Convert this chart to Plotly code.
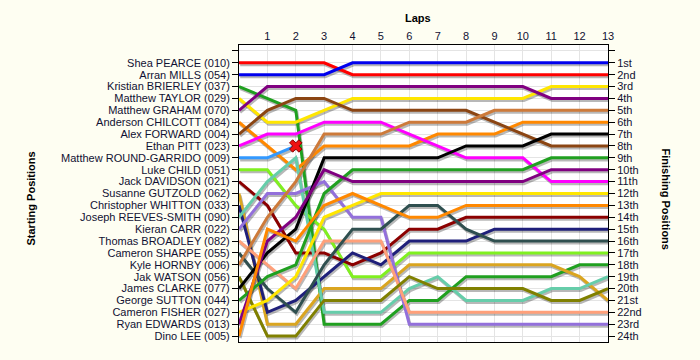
import plotly.graph_objects as go

laps = list(range(14))

riders = [
    "Shea PEARCE (010)", "Arran MILLS (054)", "Kristian BRIERLEY (037)", "Matthew TAYLOR (029)",
    "Matthew GRAHAM (070)", "Anderson CHILCOTT (084)", "Alex FORWARD (004)", "Ethan PITT (023)",
    "Matthew ROUND-GARRIDO (009)", "Luke CHILD (051)", "Jack DAVIDSON (021)", "Susanne GUTZOLD (062)",
    "Christopher WHITTON (033)", "Joseph REEVES-SMITH (090)", "Kieran CARR (022)", "Thomas BROADLEY (082)",
    "Cameron SHARPE (055)", "Kyle HORNBY (006)", "Jak WATSON (056)", "James CLARKE (077)",
    "George SUTTON (044)", "Cameron FISHER (027)", "Ryan EDWARDS (013)", "Dino LEE (005)",
]

colors = [
    "#ff0000", "#0000ee", "#20a020", "#ffe600", "#800080", "#ff8800", "#8b4513", "#ff00ff",
    "#3399ff", "#80f020", "#8b0000", "#daa520", "#1f1f7a", "#66cdaa", "#9370db", "#ffa07a",
    "#2f4f4f", "#cd7a3a", "#808000", "#000000", "#20a020", "#ffe600", "#800080", "#ff8800",
]

p_pearce = [1, 1, 1, 1, 2, 2, 2, 2, 2, 2, 2, 2, 2, 2]
p_mills = [2, 2, 2, 2, 1, 1, 1, 1, 1, 1, 1, 1, 1, 1]
p_brierley = [3, 4, 5, 23, 23, 23, 21, 21, 19, 19, 19, 19, 18, 18]
p_taylor = [4, 6, 6, 5, 4, 4, 4, 4, 4, 4, 4, 3, 3, 3]
p_graham = [5, 3, 3, 3, 3, 3, 3, 3, 3, 3, 3, 4, 4, 4]
p_chilcott = [6, 8, 10, 8, 8, 8, 8, 7, 7, 7, 6, 6, 6, 6]
p_forward = [7, 5, 4, 4, 5, 5, 5, 5, 5, 6, 7, 8, 8, 8]
p_pitt = [8, 7, 7, 6, 6, 6, 7, 8, 9, 9, 9, 11, 11, 11]
p_round = [9, 9, 8]
p_child = [10, 10, 13, 15, 19, 19, 17, 17, 17, 17, 17, 17, 17, 17]
p_davidson = [11, 13, 17, 17, 18, 17, 15, 15, 14, 14, 14, 14, 14, 14]
p_gutzold = [12, 23, 23, 20, 20, 20, 18, 18, 18, 18, 18, 18, 19, 21]
p_whitton = [13, 22, 21, 19, 17, 18, 16, 16, 16, 15, 15, 15, 15, 15]
p_reeves = [14, 11, 9, 22, 22, 22, 20, 19, 21, 21, 21, 20, 20, 19]
p_carr = [15, 12, 12, 11, 14, 14, 23, 23, 23, 23, 23, 23, 23, 23]
p_broadley = [16, 18, 20, 16, 16, 16, 22, 22, 22, 22, 22, 22, 22, 22]
p_sharpe = [17, 20, 22, 18, 15, 15, 13, 13, 15, 16, 16, 16, 16, 16]
p_hornby = [18, 14, 11, 7, 7, 7, 6, 6, 6, 5, 5, 5, 5, 5]
p_watson = [19, 24, 24, 21, 21, 21, 19, 20, 20, 20, 20, 21, 21, 20]
p_clarke = [20, 17, 15, 9, 9, 9, 9, 9, 8, 8, 8, 7, 7, 7]
p_sutton = [21, 19, 18, 12, 10, 10, 10, 10, 10, 10, 10, 9, 9, 9]
p_fisher = [22, 21, 19, 14, 13, 12, 12, 12, 12, 12, 12, 12, 12, 12]
p_edwards = [23, 16, 14, 10, 11, 11, 11, 11, 11, 11, 11, 10, 10, 10]
p_lee = [24, 15, 16, 13, 12, 13, 14, 14, 13, 13, 13, 13, 13, 13]

series = [p_pearce, p_mills, p_brierley, p_taylor, p_graham, p_chilcott, p_forward, p_pitt,
          p_round, p_child, p_davidson, p_gutzold, p_whitton, p_reeves, p_carr, p_broadley,
          p_sharpe, p_hornby, p_watson, p_clarke, p_sutton, p_fisher, p_edwards, p_lee]

finish_labels = ["1st", "2nd", "3rd", "4th", "5th", "6th", "7th", "8th", "9th", "10th", "11th", "12th",
                 "13th", "14th", "15th", "16th", "17th", "18th", "19th", "20th", "21st", "22nd", "23rd", "24th"]

dnf_rider = 8  # index of rider who retired (last recorded lap gets a cross)

fig = go.Figure()

# shadows
for pos in series:
    xs = [laps[i] + 0.04 for i in range(len(pos))]
    ys = [p + 0.17 for p in pos]
    fig.add_trace(go.Scatter(x=xs, y=ys, mode="lines", line=dict(color="rgba(0,0,0,0.28)", width=3),
                             hoverinfo="skip", showlegend=False))

for name, col, pos in zip(riders, colors, series):
    fig.add_trace(go.Scatter(x=laps[:len(pos)], y=pos, mode="lines", name=name,
                             line=dict(color=col, width=3), showlegend=False))

dnf = series[dnf_rider]
fig.add_trace(go.Scatter(x=[laps[len(dnf) - 1]], y=[dnf[-1]], mode="markers",
                         marker=dict(symbol="x", size=11, color="#ee1111", line=dict(color="#880000", width=1)),
                         showlegend=False))

# invisible trace to anchor right axis
fig.add_trace(go.Scatter(x=[laps[-1]], y=[1], yaxis="y2", mode="markers", marker=dict(opacity=0),
                         showlegend=False, hoverinfo="skip"))

FONT = "Liberation Sans, Arial, sans-serif"
tick_font = dict(family=FONT, size=11, color="#111133")
pos_vals = list(range(0, 25))

W, H = 700, 360
L, R, T, B = 239, 92, 45, 18
ph = H - T - B
pw = W - L - R

fig.update_layout(
    width=W, height=H,
    margin=dict(l=L, r=R, t=T, b=B, autoexpand=False),
    paper_bgcolor="#fefef2",
    plot_bgcolor="#ffffff",
    xaxis=dict(range=[0, 13], side="top", tickvals=laps[1:], ticktext=[str(l) for l in laps[1:]],
               showgrid=True, gridcolor="#e4e4e4", gridwidth=1, showline=True, linecolor="#000",
               linewidth=1, mirror=True, ticks="outside", ticklen=0, tickfont=tick_font,
               zeroline=False, automargin=False),
    yaxis=dict(range=[24.5, -0.5], tickvals=pos_vals, ticktext=[""] + riders, showgrid=True,
               gridcolor="#e4e4e4", gridwidth=1, showline=True, linecolor="#000", linewidth=1,
               ticks="outside", ticklen=6, tickcolor="#000", tickfont=tick_font, zeroline=False,
               automargin=False),
    yaxis2=dict(range=[24.5, -0.5], overlaying="y", side="right", tickvals=pos_vals,
                ticktext=[""] + finish_labels, showgrid=False, showline=True, linecolor="#000",
                linewidth=1, ticks="outside", ticklen=6, tickcolor="#000", tickfont=tick_font,
                zeroline=False, automargin=False),
    annotations=[
        dict(text="<b>Laps</b>", xref="paper", yref="paper", x=(418 - L) / pw, y=1 + (T - 18) / ph,
             xanchor="center", yanchor="middle", showarrow=False,
             font=dict(family=FONT, size=11, color="#000")),
        dict(text="<b>Starting Positions</b>", xref="paper", yref="paper", x=(30 - L) / pw,
             y=(H - B - 198.5) / ph, textangle=-90, showarrow=False, xanchor="center", yanchor="middle",
             font=dict(family=FONT, size=11, color="#000")),
        dict(text="<b>Finishing Positions</b>", xref="paper", yref="paper", x=(666 - L) / pw,
             y=(H - B - 198.5) / ph, textangle=90, showarrow=False, xanchor="center", yanchor="middle",
             font=dict(family=FONT, size=11, color="#000")),
    ],
)

fig.write_html("out.html", config={"displayModeBar": False},
               post_script="document.body.style.margin='0';document.body.style.background='#fefef2';")
